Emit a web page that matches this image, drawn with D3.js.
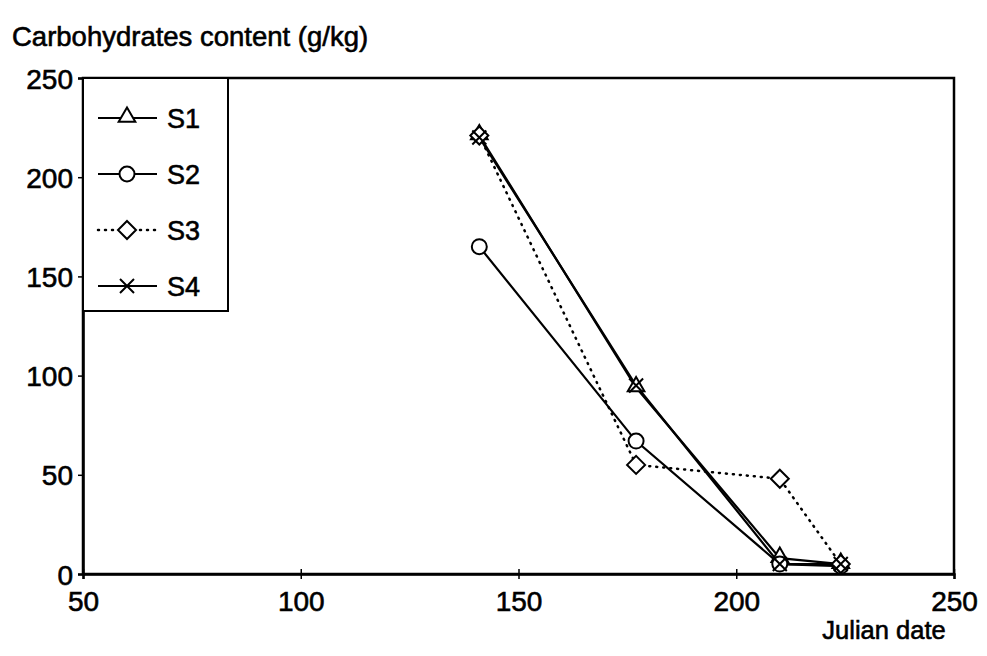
<!DOCTYPE html>
<html>
<head>
<meta charset="utf-8">
<script src="https://cdn.jsdelivr.net/npm/d3@7"></script>
<style>
  body { margin: 0; background: #fff; }
  text { font-family: "Liberation Sans", Arial, sans-serif; fill: #000; stroke: #000; stroke-width: 0.6; }
</style>
</head>
<body>
<div id="chart"></div>
<script>
var days = [141, 177, 210, 224];
var s1 = [221, 94, 8, 5];
var s2 = [165, 67, 5, 4];
var s3 = [221, 55, 48, 5];
var s4 = [220, 95, 5, 5];
var seriesNames = ["S1", "S2", "S3", "S4"];
var xTicks = [50, 100, 150, 200, 250];
var yTicks = [0, 50, 100, 150, 200, 250];

(function() {
  var width = 987, height = 656;
  var mLeft = 83, mRight = 954, mTop = 78, mBottom = 574;

  var svg = d3.select("#chart").append("svg")
      .attr("width", width)
      .attr("height", height);

  var x = d3.scaleLinear().domain([50, 250]).range([mLeft, mRight]);
  var y = d3.scaleLinear().domain([0, 250]).range([mBottom, mTop]);

  // frame
  svg.append("rect")
      .attr("x", mLeft).attr("y", mTop)
      .attr("width", mRight - mLeft).attr("height", mBottom - mTop)
      .attr("fill", "none").attr("stroke", "#000").attr("stroke-width", 2.5);

  // axes
  var xAxis = svg.append("g")
      .attr("transform", "translate(0," + mBottom + ")")
      .call(d3.axisBottom(x).tickValues(xTicks).tickSize(5).tickPadding(4).tickFormat(d3.format("d")));
  xAxis.selectAll(".tick line").attr("y1", -5).attr("stroke-width", 1.5);
  xAxis.select(".domain").attr("stroke-width", 2.5);
  xAxis.selectAll("text").attr("font-size", 28).attr("dy", "1.0em");

  var yAxis = svg.append("g")
      .attr("transform", "translate(" + mLeft + ",0)")
      .call(d3.axisLeft(y).tickValues(yTicks).tickSize(5).tickPadding(5).tickFormat(d3.format("d")));
  yAxis.selectAll(".tick line").attr("stroke-width", 1.5);
  yAxis.select(".domain").attr("stroke-width", 2.5);
  yAxis.selectAll("text").attr("font-size", 28).attr("dy", "0.36em");
  svg.selectAll(".domain").attr("stroke", "#000");
  svg.selectAll(".tick text").attr("font-family", null).attr("fill", "#000");

  // titles
  svg.append("text").attr("x", 12).attr("y", 46)
      .attr("font-size", 27.5).text("Carbohydrates content (g/kg)");
  svg.append("text").attr("x", 884).attr("y", 639)
      .attr("text-anchor", "middle").attr("font-size", 25.5).text("Julian date");

  function marker(g, type) {
    if (type === "S1") {
      g.append("path").attr("d", d3.symbol().type(d3.symbolTriangle).size(120))
        .attr("transform", "translate(0,-1)")
        .attr("fill", "#fff").attr("stroke", "#000").attr("stroke-width", 2);
    } else if (type === "S2") {
      g.append("circle").attr("r", 7.5)
        .attr("fill", "#fff").attr("stroke", "#000").attr("stroke-width", 2);
    } else if (type === "S3") {
      g.append("path").attr("d", "M0,-9L9,0L0,9L-9,0Z")
        .attr("fill", "#fff").attr("stroke", "#000").attr("stroke-width", 2);
    } else {
      g.append("path").attr("d", "M-7,-7L7,7M-7,7L7,-7")
        .attr("fill", "none").attr("stroke", "#000").attr("stroke-width", 2);
    }
  }

  var allSeries = [s1, s2, s3, s4];
  var line = d3.line()
      .x(function(d, i) { return x(days[i]); })
      .y(function(d) { return y(d); });

  allSeries.forEach(function(vals, k) {
    var name = seriesNames[k];
    svg.append("path")
      .attr("d", line(vals))
      .attr("fill", "none")
      .attr("stroke", "#000")
      .attr("stroke-width", name === "S3" ? 2.5 : 2.2)
      .attr("stroke-dasharray", name === "S3" ? "1,6" : null)
      .attr("stroke-linecap", name === "S3" ? "round" : "butt");
  });

  allSeries.forEach(function(vals, k) {
    var name = seriesNames[k];
    vals.forEach(function(v, i) {
      var g = svg.append("g").attr("transform", "translate(" + x(days[i]) + "," + y(v) + ")");
      marker(g, name);
    });
  });

  // legend
  var legend = svg.append("g");
  legend.append("rect")
      .attr("x", mLeft).attr("y", mTop)
      .attr("width", 145).attr("height", 233)
      .attr("fill", "#fff").attr("stroke", "#000").attr("stroke-width", 2);

  seriesNames.forEach(function(name, k) {
    var ly = 118 + k * 56;
    legend.append("line")
      .attr("x1", 98).attr("x2", 157).attr("y1", ly).attr("y2", ly)
      .attr("stroke", "#000").attr("stroke-width", name === "S3" ? 2.5 : 2.2)
      .attr("stroke-dasharray", name === "S3" ? "1,6" : null)
      .attr("stroke-linecap", name === "S3" ? "round" : "butt");
    var g = legend.append("g").attr("transform", "translate(127," + ly + ")");
    marker(g, name);
    legend.append("text").attr("x", 167).attr("y", ly + 10)
      .attr("font-size", 27).text(name);
  });
})();
</script>
</body>
</html>
